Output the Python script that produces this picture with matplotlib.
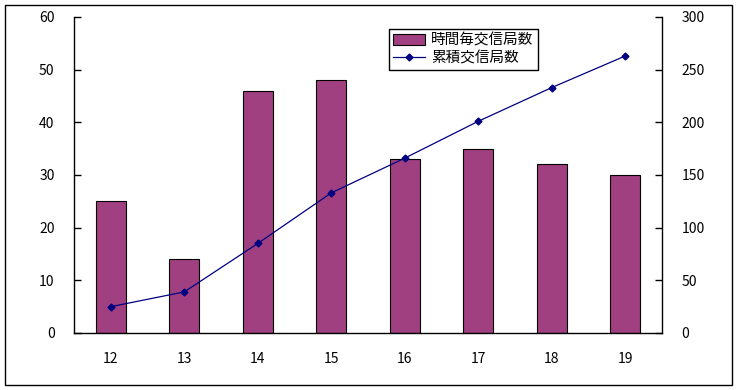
import matplotlib
matplotlib.use("Agg")
import matplotlib.pyplot as plt
from matplotlib.patches import Rectangle
from matplotlib.lines import Line2D

plt.rcParams["font.family"] = ["Noto Sans CJK JP", "DejaVu Sans"]

hours = ["12", "13", "14", "15", "16", "17", "18", "19"]
per_hour = [25, 14, 46, 48, 33, 35, 32, 30]
cumulative = [25, 39, 85, 133, 166, 201, 233, 263]

fig = plt.figure(figsize=(7.39, 3.90), dpi=100)
ax = fig.add_axes([74 / 739, 1 - 333 / 390, 588 / 739, 316 / 390])
ax2 = ax.twinx()

x = list(range(len(hours)))
ax.bar(x, per_hour, width=0.41, color="#A04080", edgecolor="black", linewidth=0.8,
       label="時間毎交信局数", zorder=2)
ax2.plot(x, cumulative, color="#000080", lw=0.9, marker="D", markersize=3.5,
         label="累積交信局数")

ax.set_xlim(-0.5, len(hours) - 0.5)
ax.set_ylim(0, 60)
ax.set_yticks(range(0, 61, 10))
ax2.set_ylim(0, 300)
ax2.set_yticks(range(0, 301, 50))
ax.set_xticks(x)
ax.set_xticklabels(hours)

for a in (ax, ax2):
    a.spines["top"].set_visible(False)
    for s in a.spines.values():
        s.set_linewidth(1.0)
ax.spines["right"].set_visible(False)
ax2.spines["left"].set_visible(False)
ax2.spines["bottom"].set_visible(False)

ax.tick_params(axis="y", direction="in", length=5, width=1, labelsize=10, pad=14)
ax.tick_params(axis="x", length=0, labelsize=10, pad=14)
ax2.tick_params(axis="y", direction="in", length=5, width=1, labelsize=10, pad=14)

handles = [
    Rectangle((0, 0), 1, 1, facecolor="#A04080", edgecolor="black", linewidth=0.8),
    Line2D([], [], color="#000080", lw=0.9, marker="D", markersize=3.5),
]
leg = ax.legend(handles, ["時間毎交信局数", "累積交信局数"], loc="upper left",
                bbox_to_anchor=(315 / 588, 1 - 12 / 316), fancybox=False,
                edgecolor="black", framealpha=1, fontsize=10.5, borderpad=0.3,
                labelspacing=0.25, handlelength=2.2, handletextpad=0.4, borderaxespad=0)
leg.get_frame().set_linewidth(1.0)
leg.set_zorder(5)

fig.patches.append(Rectangle((5 / 739, 1 - 385 / 390), 727 / 739, 380 / 390,
                             transform=fig.transFigure, fill=False,
                             edgecolor="black", linewidth=1.0))

fig.savefig("out.png", dpi=100)
